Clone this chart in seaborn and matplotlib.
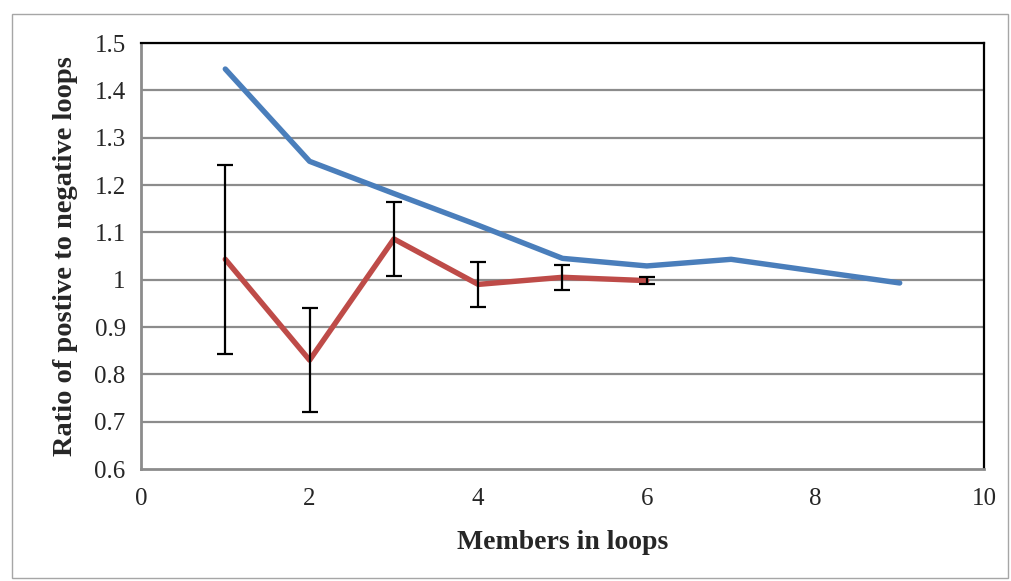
import matplotlib.pyplot as plt
import numpy as np
import pandas as pd
import seaborn as sns
from matplotlib.patches import Rectangle

# data
blue_x = [1, 2, 3, 4, 5, 6, 7, 8, 9]
blue_y = [1.445, 1.25, 1.182, 1.115, 1.045, 1.029, 1.043, 1.018, 0.993]
red_x = [1, 2, 3, 4, 5, 6]
red_y = [1.043, 0.830, 1.086, 0.990, 1.005, 0.998]
red_err = [0.200, 0.110, 0.079, 0.047, 0.027, 0.008]

x_ticks = [0, 2, 4, 6, 8, 10]
y_ticks = [0.6, 0.7, 0.8, 0.9, 1.0, 1.1, 1.2, 1.3, 1.4, 1.5]
y_labels = ["0.6", "0.7", "0.8", "0.9", "1", "1.1", "1.2", "1.3", "1.4", "1.5"]

sns.set_style("white")
plt.rcParams['font.family'] = ['Liberation Serif', 'DejaVu Serif']

fig = plt.figure(figsize=(10.12, 5.81), dpi=100)
ax = fig.add_axes([141/1012, 1-469/581, (984-141)/1012, (469-43)/581])

# outer chart border
fig.patches.append(Rectangle((12/1012, 3/581), 996/1012, (578-14)/581, transform=fig.transFigure,
                             fill=False, edgecolor="#a6a6a6", linewidth=1.0))

grid_col = "#8c8c8c"
for v in y_ticks[1:]:
    ax.axhline(v, color=grid_col, linewidth=1.6, zorder=0)

blue_df = pd.DataFrame({"x": blue_x, "y": blue_y})
red_df = pd.DataFrame({"x": red_x, "y": red_y})
sns.lineplot(data=blue_df, x="x", y="y", ax=ax, color="#4a7ebb", linewidth=3.9,
             solid_capstyle="round", zorder=3)
sns.lineplot(data=red_df, x="x", y="y", ax=ax, color="#be4b48", linewidth=3.9,
             solid_capstyle="round", zorder=3)
ax.errorbar(red_x, red_y, yerr=red_err, fmt="none", ecolor="black", elinewidth=1.6,
            capsize=6, capthick=1.6, zorder=4)

ax.set_xlim(0, 10)
ax.set_ylim(0.6, 1.5)
ax.set_xticks(x_ticks)
ax.set_yticks(y_ticks)
ax.set_yticklabels(y_labels)
ax.tick_params(axis="both", direction="out", length=7, width=1.6, color=grid_col,
               labelsize=18, pad=4)
ax.tick_params(axis="x", pad=7)

for s in ["left", "bottom"]:
    ax.spines[s].set_color(grid_col)
    ax.spines[s].set_linewidth(2)
for s in ["top", "right"]:
    ax.spines[s].set_color("black")
    ax.spines[s].set_linewidth(1.6)

ax.set_xlabel("Members in loops", fontsize=20, fontweight="bold", labelpad=14)
ax.set_ylabel("Ratio of postive to negative loops", fontsize=20.5, fontweight="bold", labelpad=12)

fig.savefig("out.png", dpi=100)
